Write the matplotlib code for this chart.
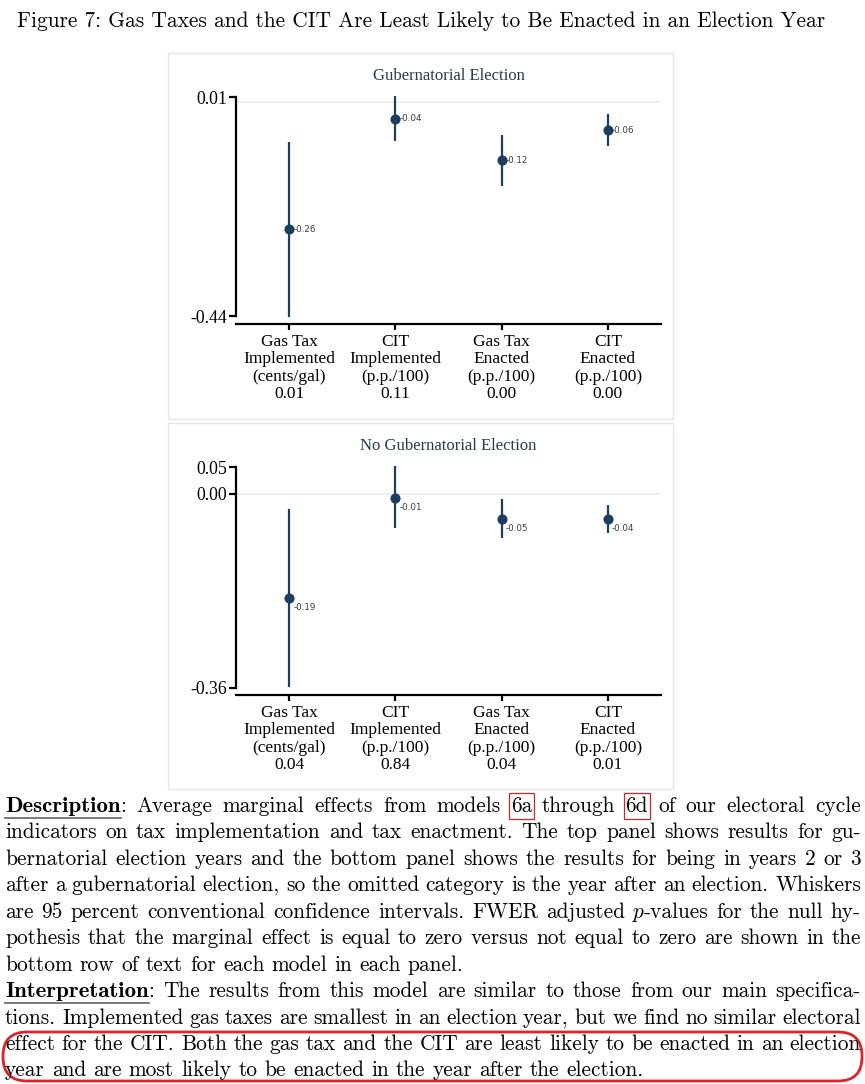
import matplotlib
matplotlib.use('Agg')
import matplotlib.pyplot as plt
from matplotlib.font_manager import FontProperties
from matplotlib.patches import Rectangle, FancyBboxPatch

W, H = 865, 1084

# x categories shared by both panels
categories = ['Gas Tax\nImplemented\n(cents/gal)', 'CIT\nImplemented\n(p.p./100)',
              'Gas Tax\nEnacted\n(p.p./100)', 'CIT\nEnacted\n(p.p./100)']

# Top panel: gubernatorial election
gub_est = [-0.261, -0.035, -0.120, -0.058]
gub_lo = [-0.441, -0.080, -0.173, -0.091]
gub_hi = [-0.082, 0.012, -0.068, -0.025]
gub_lab = ['-0.26', '-0.04', '-0.12', '-0.06']
gub_p = ['0.01', '0.11', '0.00', '0.00']
gub_yticks = [-0.44, 0.01]

# Bottom panel: no gubernatorial election
nog_est = [-0.193, -0.007, -0.046, -0.046]
nog_lo = [-0.358, -0.064, -0.082, -0.072]
nog_hi = [-0.028, 0.052, -0.010, -0.020]
nog_lab = ['-0.19', '-0.01', '-0.05', '-0.04']
nog_p = ['0.04', '0.84', '0.04', '0.01']
nog_yticks = [-0.36, 0.00, 0.05]

title = 'Figure 7: Gas Taxes and the CIT Are Least Likely to Be Enacted in an Election Year'

body = [
    ('Description: Average marginal effects from models 6a through 6d of our electoral cycle', True),
    ('indicators on tax implementation and tax enactment. The top panel shows results for gu-', True),
    ('bernatorial election years and the bottom panel shows the results for being in years 2 or 3', True),
    ('after a gubernatorial election, so the omitted category is the year after an election. Whiskers', True),
    ('are 95 percent conventional confidence intervals. FWER adjusted p-values for the null hy-', True),
    ('pothesis that the marginal effect is equal to zero versus not equal to zero are shown in the', True),
    ('bottom row of text for each model in each panel.', False),
    ('Interpretation: The results from this model are similar to those from our main specifica-', True),
    ('tions. Implemented gas taxes are smallest in an election year, but we find no similar electoral', True),
    ('effect for the CIT. Both the gas tax and the CIT are least likely to be enacted in an election', True),
    ('year and are most likely to be enacted in the year after the election.', False),
]

navy = '#1f3d5c'
serif = 'Liberation Serif'
fonts = {'r': 'cmr10', 'b': 'cmb10', 'i': 'cmmi10'}
special = {'Description:': [('Description', 'b'), (':', 'r')],
           'Interpretation:': [('Interpretation', 'b'), (':', 'r')],
           'p-values': [('p', 'i'), ('-values', 'r')]}
boxed = {'6a', '6d'}

plt.rcParams['axes.unicode_minus'] = False
fig = plt.figure(figsize=(W / 100, H / 100), dpi=100)
bg = fig.add_axes([0, 0, 1, 1])
bg.set_xlim(0, W)
bg.set_ylim(H, 0)
bg.axis('off')
renderer = fig.canvas.get_renderer()


def width(s, style, size):
    t = bg.text(0, 0, s, family=fonts[style], fontsize=size)
    w = t.get_window_extent(renderer).width
    t.remove()
    return w


def descent(s, style, size):
    prop = FontProperties(family=fonts[style], size=size)
    return renderer.get_text_width_height_descent(s, prop, ismath=False)[2]


# panel frames
for top in (53, 423):
    bg.add_patch(Rectangle((168, top), 505, 366, fill=False, ec='#e6e6e6', lw=1))


def panel(top, bottom, zero_px, scale, est, lo, hi, labs, pvals, yticks, name, lab_dy):
    ax = fig.add_axes([236 / W, 1 - bottom / H, 425 / W, (bottom - top) / H])
    ax.set_facecolor('none')
    ax.set_xlim(0.5, 4.5)
    ax.set_ylim((zero_px - bottom) / scale, (zero_px - top) / scale)
    x = [1, 2, 3, 4]
    ax.axhline(0, color='#ebebeb', lw=1.2, zorder=0)
    ax.vlines(x, lo, hi, color=navy, lw=1.6)
    ax.plot(x, est, 'o', color=navy, ms=6.3)
    for xi, yi, s in zip(x, est, labs):
        ax.annotate(s, (xi, yi), xytext=(3, lab_dy), textcoords='offset points',
                    va='center', ha='left', fontsize=6.3, color='#3a3a3a', family='DejaVu Sans')
    for s in ('top', 'right'):
        ax.spines[s].set_visible(False)
    for s in ('left', 'bottom'):
        ax.spines[s].set_linewidth(1.6)
    ax.spines['left'].set_bounds(min(yticks), max(yticks))
    ax.set_yticks(yticks)
    ax.set_yticklabels([f'{v:.2f}' for v in yticks], family=serif, fontsize=12.8)
    ax.set_xticks(x)
    ax.set_xticklabels([c + '\n' + p for c, p in zip(categories, pvals)],
                       family=serif, fontsize=12.5, linespacing=1.09)
    ax.tick_params(axis='y', length=5, width=1.6, pad=1.5)
    ax.tick_params(axis='x', length=4, width=1.6, pad=3.5)
    bg.text(448.5, top - 19, name, ha='center', va='center', family=serif,
            fontsize=12, color='#2b3a4e')


panel(95, 324, 101.9, 487, gub_est, gub_lo, gub_hi, gub_lab, gub_p, gub_yticks,
      'Gubernatorial Election', 0)
panel(465, 695, 494, 538, nog_est, nog_lo, nog_hi, nog_lab, nog_p, nog_yticks,
      'No Gubernatorial Election', -7)

# title, fitted to its width on the page
tsize = 10 * 808 / width(title, 'r', 10)
bg.text(17, 27, title, family='cmr10', fontsize=tsize, va='baseline')

# body text, justified
w_ref = sum(width(w, 'r', 10) for w in body[6][0].split())
space10 = width('x x', 'r', 10) - width('xx', 'r', 10)
w_ref += space10 * (len(body[6][0].split()) - 1)
bsize = 10 * 458 / w_ref
space = space10 * bsize / 10
sizes = {'r': bsize, 'i': bsize, 'b': bsize * 1.07}
x0, x1 = 5, 861
for i, (line, justify) in enumerate(body):
    base = round(812 + i * 26.45)
    words = line.split(' ')
    runs = [special.get(w, [(w, 'r')]) for w in words]
    widths = [[width(s, st, sizes[st]) for s, st in r] for r in runs]
    total = sum(sum(ws) for ws in widths)
    gap = (x1 - x0 - total) / (len(words) - 1) if justify else space
    x = x0
    for w, r, ws in zip(words, runs, widths):
        xs = x
        for (s, st), wd in zip(r, ws):
            d = descent(s, st, sizes[st])
            # keep every word on the same pixel baseline
            yb = base - (d - round(d))
            bg.text(x, yb, s, family=fonts[st], fontsize=sizes[st], va='baseline')
            if st == 'b':
                bg.plot([x, x + wd], [base + 6, base + 6], color='#6e6e6e', lw=1.3)
            x += wd
        if w in boxed:
            bg.add_patch(Rectangle((xs - 1.5, base - 19), x - xs + 3, 26, fill=False,
                                   ec='#c62828', lw=0.9))
        x += gap

bg.add_patch(FancyBboxPatch((3, 1032), 859, 49, boxstyle='round,pad=0,rounding_size=24',
                            fill=False, ec='#d9262b', lw=2))

fig.savefig('out.png', dpi=100)
